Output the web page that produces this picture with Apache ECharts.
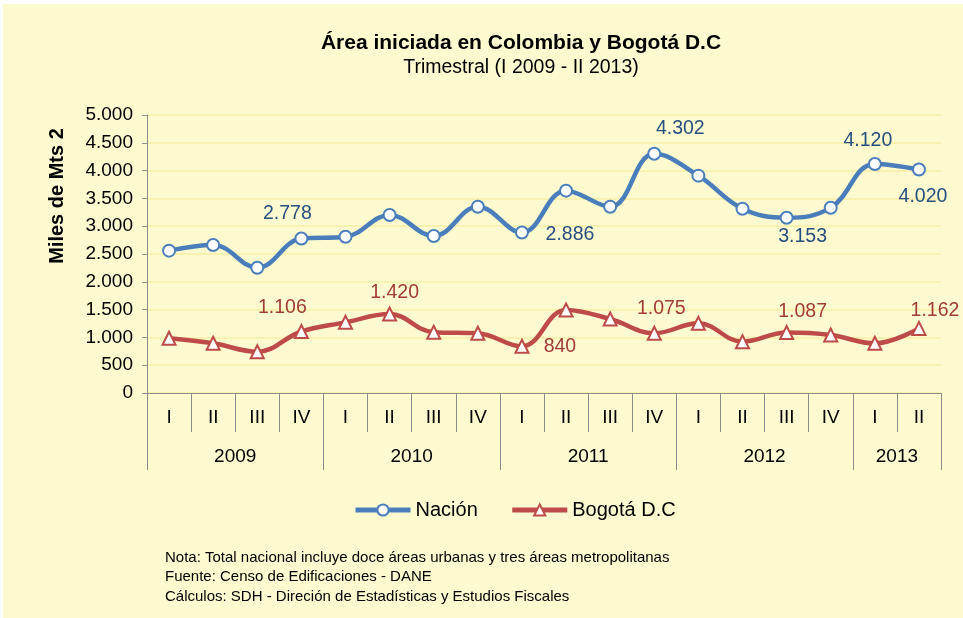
<!DOCTYPE html>
<html>
<head>
<meta charset="utf-8">
<script src="https://cdn.jsdelivr.net/npm/echarts@6/dist/echarts.min.js"></script>
<style>
html,body{margin:0;padding:0;background:#fff;}
#c{position:absolute;left:0;top:0;width:963px;height:618px;}
#edge{position:absolute;left:0;top:0;width:963px;height:618px;box-sizing:border-box;border-top:4px solid #fff;border-left:3px solid #fff;pointer-events:none;}
</style>
</head>
<body>
<div id="c"></div>
<div id="edge"></div>
<script>
// ---- data ----
const quarters = ['I','II','III','IV','I','II','III','IV','I','II','III','IV','I','II','III','IV','I','II'];
const years = ['2009','2010','2011','2012','2013'];
const quartersPerYear = [4,4,4,4,2];
const nacion = [2560,2662,2254,2778,2811,3202,2824,3351,2886,3639,3351,4302,3909,3315,3153,3333,4120,4020];
const bogota = [984,894,743,1106,1271,1420,1092,1074,840,1493,1331,1075,1253,923,1087,1043,894,1162];
const yTicks = [0,500,1000,1500,2000,2500,3000,3500,4000,4500,5000];
const nacionLabelIdx = [3,8,11,14,16,17];
const bogotaLabelIdx = [3,5,8,11,14,17];

// ---- layout / style ----
const FONT = "'Liberation Sans', Arial, sans-serif";
const nacionOffsets = {3:[-14,-25],8:[48,2],11:[26,-25],14:[16,19],16:[-7,-23],17:[4,27]};
const bogotaOffsets = {3:[-19,-24],5:[5,-21],8:[38,0],11:[7,-25],14:[16,-21],17:[16,-18]};

function fmt(v){
  return String(Math.round(v)).replace(/\B(?=(\d{3})+(?!\d))/g,'.');
}
function build(values, idxs, offs, color){
  return values.map((v,i)=>{
    if(idxs.indexOf(i)<0) return v;
    return {value:v,label:{show:true,position:'inside',offset:offs[i],color:color,fontSize:19.5,fontFamily:FONT,formatter:p=>fmt(p.value)}};
  });
}
// year boundaries and centers
const yearTicks=[0]; const yearCenters=[];
quartersPerYear.reduce((acc,n)=>{yearCenters.push(acc+n/2); yearTicks.push(acc+n); return acc+n;},0);

const chart = echarts.init(document.getElementById('c'));
chart.setOption({
  backgroundColor:'#FEFAD0',
  animation:false,
  textStyle:{fontFamily:FONT},
  title:[{
    text:'Área iniciada en Colombia y Bogotá D.C',
    subtext:'Trimestral (I 2009 - II 2013)',
    left:521, textAlign:'center', top:33, padding:0, itemGap:4,
    textStyle:{fontSize:21,fontWeight:'bold',color:'#000',fontFamily:FONT},
    subtextStyle:{fontSize:19.5,color:'#000',fontFamily:FONT}
  },{
    text:'Nota: Total nacional incluye doce áreas urbanas y tres áreas metropolitanas\nFuente: Censo de Edificaciones - DANE\nCálculos: SDH - Direción de Estadísticas y Estudios Fiscales',
    left:165, top:548, padding:0,
    textStyle:{fontSize:15,fontWeight:'normal',color:'#000',lineHeight:19.5,fontFamily:FONT}
  }],
  legend:{
    top:500, left:353, padding:0, itemWidth:55, itemHeight:14, itemGap:32,
    textStyle:{fontSize:20,color:'#000',fontFamily:FONT},
    lineStyle:{width:5},
    data:['Nación','Bogotá D.C']
  },
  grid:{left:147,right:22,top:115,bottom:225,containLabel:false},
  xAxis:[{
    type:'category', data:quarters, boundaryGap:true,
    axisLine:{lineStyle:{color:'#8C8C8C',width:1}},
    axisTick:{show:true,interval:0,length:39,lineStyle:{color:'#8C8C8C'}},
    axisLabel:{interval:0,margin:15,fontSize:19,color:'#000',fontFamily:FONT}
  },{
    type:'value', min:0, max:quarters.length, position:'bottom',
    axisLine:{show:false}, splitLine:{show:false},
    axisTick:{show:true,customValues:yearTicks,length:77,lineStyle:{color:'#8C8C8C'}},
    axisLabel:{customValues:yearCenters,margin:54,fontSize:19,color:'#000',fontFamily:FONT,
      formatter:v=>years[yearCenters.indexOf(v)]}
  }],
  yAxis:{
    type:'value', min:yTicks[0], max:yTicks[yTicks.length-1], interval:yTicks[1]-yTicks[0],
    name:'Miles de Mts 2', nameLocation:'middle', nameGap:80,
    nameTextStyle:{fontSize:20,fontWeight:'bold',color:'#000',fontFamily:FONT,padding:[0,0,0,116]},
    axisLine:{show:true,lineStyle:{color:'#8C8C8C'}},
    axisTick:{show:true,length:5,lineStyle:{color:'#8C8C8C'}},
    axisLabel:{margin:14,fontSize:19,color:'#000',fontFamily:FONT,formatter:v=>fmt(v)},
    splitLine:{show:true,lineStyle:{color:'#F6EEA6',width:1.5}}
  },
  series:[{
    name:'Nación', type:'line', smooth:0.4, xAxisIndex:0,
    data:build(nacion,nacionLabelIdx,nacionOffsets,'#264F80'),
    symbol:'emptyCircle', symbolSize:12,
    lineStyle:{width:4.5,color:'#4A7EBB'},
    itemStyle:{color:'#4A7EBB',borderWidth:2}
  },{
    name:'Bogotá D.C', type:'line', smooth:0.4, xAxisIndex:0,
    data:build(bogota,bogotaLabelIdx,bogotaOffsets,'#A33B37'),
    symbol:'emptyTriangle', symbolSize:13,
    lineStyle:{width:4.5,color:'#BE4B48'},
    itemStyle:{color:'#BE4B48',borderWidth:2}
  }]
});
</script>
</body>
</html>
